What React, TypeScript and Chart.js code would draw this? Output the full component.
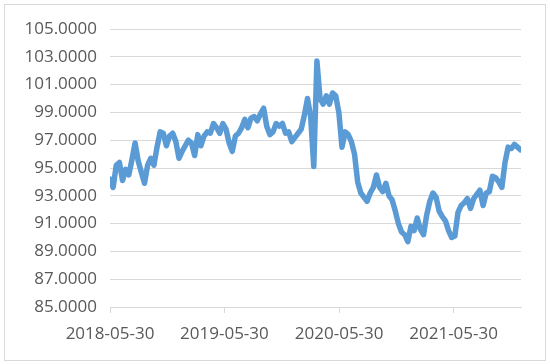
import React, { useEffect, useRef } from "react";
import { Chart, registerables } from "chart.js";

Chart.register(...registerables);

// ---- data ----
const startDate = "2018-05-30";
const endDate = "2021-12-31";
const sampleStepDays = 10;
const tickLabels = ["2018-05-30", "2019-05-30", "2020-05-30", "2021-05-30"];
const yTicks = [85, 87, 89, 91, 93, 95, 97, 99, 101, 103, 105];

const navValues = [
  94.2, 93.6, 95.2, 95.4, 94.1, 94.9, 94.5, 95.6, 96.8, 95.5,
  94.7, 93.9, 95.2, 95.7, 95.2, 96.5, 97.6, 97.5, 96.6, 97.3,
  97.5, 96.9, 95.7, 96.2, 96.6, 97.0, 96.8, 95.9, 97.4, 96.6,
  97.3, 97.6, 97.5, 98.2, 97.9, 97.5, 98.2, 97.8, 96.8, 96.2,
  97.3, 97.5, 97.9, 98.5, 97.9, 98.6, 98.7, 98.4, 98.9, 99.3,
  98.0, 97.4, 97.6, 98.2, 98.0, 98.2, 97.5, 97.6, 96.9, 97.2,
  97.5, 97.8, 98.8, 100.0, 98.7, 95.1, 102.7, 100.0, 99.6, 100.2,
  99.6, 100.4, 100.2, 99.0, 96.5, 97.6, 97.4, 96.9, 96.0, 94.0,
  93.2, 92.9, 92.6, 93.2, 93.6, 94.5, 93.6, 93.3, 93.9, 93.0,
  92.7, 91.9, 91.0, 90.4, 90.2, 89.7, 90.8, 90.5, 91.4, 90.6,
  90.2, 91.6, 92.6, 93.2, 92.9, 91.9, 91.5, 91.2, 90.5, 90.0,
  90.1, 91.8, 92.3, 92.5, 92.8, 92.1, 92.8, 93.1, 93.4, 92.3,
  93.2, 93.3, 94.4, 94.3, 94.0, 93.6, 95.4, 96.5, 96.4, 96.7,
  96.5, 96.3,
];

const DAY = 86400000;
const dayOf = (d: string) =>
  Math.round((Date.parse(d + "T00:00:00Z") - Date.parse(startDate + "T00:00:00Z")) / DAY);

export default function App() {
  const ref = useRef<HTMLCanvasElement | null>(null);

  useEffect(() => {
    if (!ref.current) return;
    const tickDays = tickLabels.map(dayOf);
    const points = navValues.map((v, i) => ({ x: i * sampleStepDays, y: v }));
    const font = { family: "'Open Sans', sans-serif", size: 17 };
    const chart = new Chart(ref.current, {
      type: "line",
      data: {
        datasets: [
          {
            data: points,
            borderColor: "#5B9BD5",
            borderWidth: 5.5,
            pointRadius: 0,
            tension: 0,
            borderJoinStyle: "round",
            borderCapStyle: "round",
            fill: false,
          },
        ],
      },
      options: {
        animation: false,
        responsive: false,
        maintainAspectRatio: false,
        layout: { padding: { left: 0, right: 29, top: 29, bottom: 0 }, autoPadding: false },
        plugins: { legend: { display: false }, tooltip: { enabled: false } },
        scales: {
          x: {
            type: "linear",
            min: 0,
            max: dayOf(endDate),
            afterBuildTicks: (axis: any) => {
              axis.ticks = tickDays.map((d) => ({ value: d }));
            },
            afterFit: (axis: any) => {
              axis.height = 57;
            },
            ticks: {
              autoSkip: false,
              maxRotation: 0,
              color: "#595959",
              font,
              padding: 11,
              callback: (v: any) => {
                const i = tickDays.indexOf(Number(v));
                return i >= 0 ? tickLabels[i] : "";
              },
            },
            grid: {
              drawOnChartArea: false,
              drawTicks: true,
              tickLength: 6,
              color: "#D9D9D9",
            },
            border: { display: true, color: "#D9D9D9", width: 1 },
          },
          y: {
            min: 85,
            max: 105,
            afterBuildTicks: (axis: any) => {
              axis.ticks = yTicks.map((v) => ({ value: v }));
            },
            afterFit: (axis: any) => {
              axis.width = 110;
            },
            ticks: {
              color: "#595959",
              font,
              padding: 13,
              callback: (v: any) => Number(v).toFixed(4),
            },
            grid: { color: "#D9D9D9", drawTicks: false, lineWidth: 1 },
            border: { display: false },
          },
        },
      },
    });
    return () => chart.destroy();
  }, []);

  return (
    <div style={{ position: "fixed", left: 0, top: 0, width: 550, height: 364, background: "#fff" }}>
      <div
        style={{
          position: "absolute",
          left: 4,
          top: 4,
          width: 542,
          height: 357,
          border: "1px solid #D9D9D9",
          boxSizing: "border-box",
        }}
      />
      <canvas
        ref={ref}
        width={550}
        height={364}
        style={{ position: "absolute", left: 0, top: 0, width: 550, height: 364 }}
      />
    </div>
  );
}
